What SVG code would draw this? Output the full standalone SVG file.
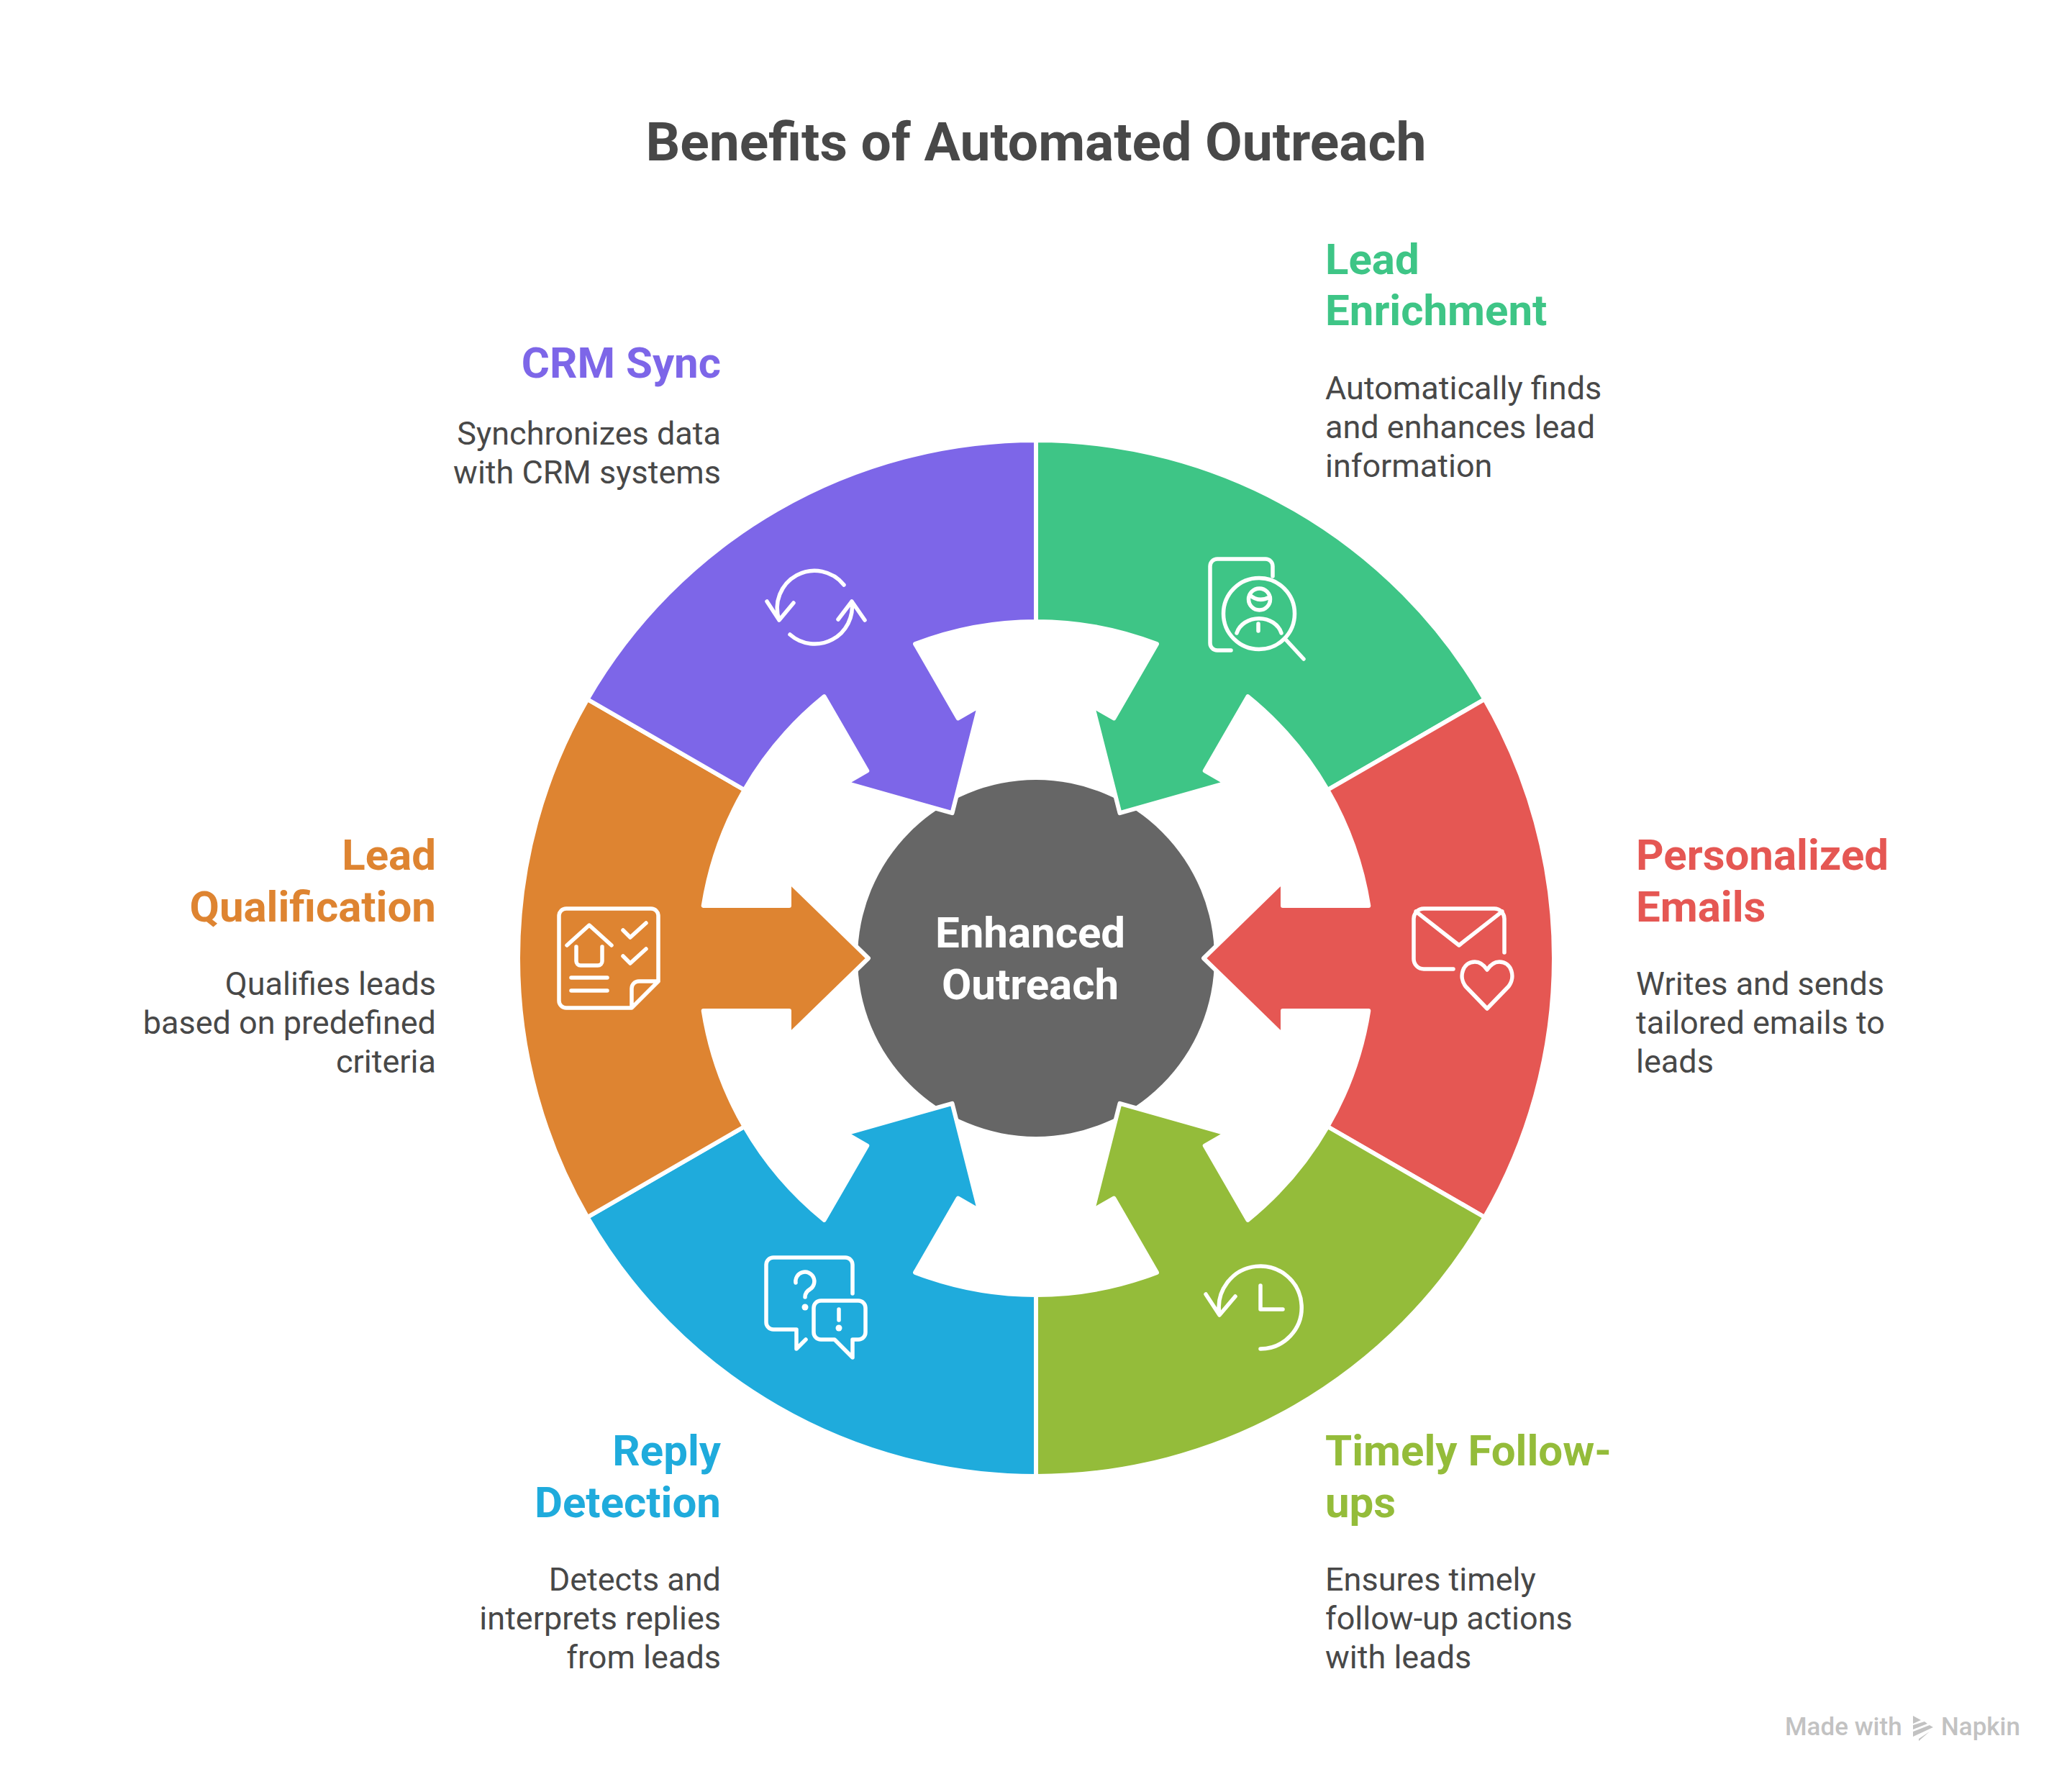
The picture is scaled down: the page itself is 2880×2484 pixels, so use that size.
<svg xmlns="http://www.w3.org/2000/svg" xmlns:xlink="http://www.w3.org/1999/xlink" width="2880" height="2484" viewBox="0 0 2880 2484">
<style>
text{font-family:Roboto,"Liberation Sans",sans-serif}
.title{font-size:75px;font-weight:700;fill:#484848}
.head{font-size:60px;font-weight:700}
.body{font-size:45px;font-weight:400;fill:#484848}
.center{font-size:60px;font-weight:700;fill:#fff;text-anchor:middle}
.end{text-anchor:end}
.seg{stroke:#fff;stroke-width:6;stroke-linejoin:round}
.ic{fill:none;stroke:#fff;stroke-width:5.5;stroke-linecap:round;stroke-linejoin:round}
.dot{fill:#fff}
.brand{font-size:35px;font-weight:500;fill:#c2c2c2}
</style>
<defs>
<path id="seg" d="M-360,-623.54A720,720 0 0 1 360,-623.54L234,-405.3A468,468 0 0 0 73,-462.3L73,-343L107,-343L0,-233L-107,-343L-73,-343L-73,-462.3A468,468 0 0 0 -234,-405.3Z"/>
</defs>
<rect width="2880" height="2484" fill="#fff"/>
<text class="title" x="1440" y="223" text-anchor="middle">Benefits of Automated Outreach</text>
<g id="center-node">
<circle cx="1440" cy="1332" r="248" fill="#666"/>
<text class="center" x="1432" y="1317">Enhanced</text>
<text class="center" x="1432" y="1389">Outreach</text>
</g>
<g id="lead-enrichment">
<use href="#seg" class="seg" fill="#3ec586" transform="translate(1440,1332) rotate(30)"/>
<path class="ic" d="M1711,904H1692a10,10 0 0 1 -10,-10V787a10,10 0 0 1 10,-10H1759a10,10 0 0 1 10,10V801"/>
<circle class="ic" cx="1750" cy="853" r="49.5"/>
<path class="ic" d="M1788,890L1812,916M1719,880A32,27 0 0 1 1781,880M1749,867V877"/>
<circle class="ic" cx="1750.5" cy="833" r="15"/>
<path class="ic" d="M1737,827Q1749,838 1765,830"/>
<text class="head" fill="#3ec586" x="1842" y="381">Lead</text>
<text class="head" fill="#3ec586" x="1842" y="452">Enrichment</text>
<text class="body" x="1842" y="555">Automatically finds</text>
<text class="body" x="1842" y="609">and enhances lead</text>
<text class="body" x="1842" y="663">information</text>
</g>
<g id="personalized-emails">
<use href="#seg" class="seg" fill="#e55753" transform="translate(1440,1332) rotate(90)"/>
<path class="ic" d="M2020,1347H1979a14,14 0 0 1 -14,-14V1277a14,14 0 0 1 14,-14H2077a14,14 0 0 1 14,14V1324M1968,1267L2028,1314L2088,1267"/>
<path class="ic" d="M2067,1402L2037,1371C2027,1358 2033,1337 2050,1337C2058,1337 2063,1342 2067,1348C2071,1342 2076,1337 2084,1337C2101,1337 2107,1358 2097,1371Z"/>
<text class="head" fill="#e55753" x="2274" y="1209">Personalized</text>
<text class="head" fill="#e55753" x="2274" y="1281">Emails</text>
<text class="body" x="2274" y="1383">Writes and sends</text>
<text class="body" x="2274" y="1437">tailored emails to</text>
<text class="body" x="2274" y="1491">leads</text>
</g>
<g id="timely-follow-ups">
<use href="#seg" class="seg" fill="#94bc3a" transform="translate(1440,1332) rotate(150)"/>
<path class="ic" d="M1752,1875A57.5,57.5 0 1 0 1695,1827M1676,1799L1695,1828L1717,1802M1752,1787V1820H1783"/>
<text class="head" fill="#94bc3a" x="1842" y="2037">Timely Follow-</text>
<text class="head" fill="#94bc3a" x="1842" y="2109">ups</text>
<text class="body" x="1842" y="2211">Ensures timely</text>
<text class="body" x="1842" y="2265">follow-up actions</text>
<text class="body" x="1842" y="2319">with leads</text>
</g>
<g id="reply-detection">
<use href="#seg" class="seg" fill="#1fabdc" transform="translate(1440,1332) rotate(210)"/>
<path class="ic" d="M1185,1798V1758a10,10 0 0 0 -10,-10H1075a10,10 0 0 0 -10,10V1838a10,10 0 0 0 10,10H1107V1875L1120,1862"/>
<path class="ic" d="M1141,1808H1193a10,10 0 0 1 10,10V1852a10,10 0 0 1 -10,10H1185V1887L1160,1862H1141a10,10 0 0 1 -10,-10V1818a10,10 0 0 1 10,-10Z"/>
<path class="ic" d="M1106,1783A13,13 0 1 1 1126,1792Q1119,1796 1119,1803M1166,1820V1835"/>
<circle class="dot" cx="1119" cy="1817" r="4.5"/><circle class="dot" cx="1166" cy="1846" r="4.5"/>
<text class="head end" fill="#1fabdc" x="1002" y="2037">Reply</text>
<text class="head end" fill="#1fabdc" x="1002" y="2109">Detection</text>
<text class="body end" x="1002" y="2211">Detects and</text>
<text class="body end" x="1002" y="2265">interprets replies</text>
<text class="body end" x="1002" y="2319">from leads</text>
</g>
<g id="lead-qualification">
<use href="#seg" class="seg" fill="#de8431" transform="translate(1440,1332) rotate(270)"/>
<path class="ic" d="M915,1364V1273a10,10 0 0 0 -10,-10H787a10,10 0 0 0 -10,10V1391a10,10 0 0 0 10,10H878L915,1364H888a10,10 0 0 0 -10,10V1400"/>
<path class="ic" d="M788,1314L819,1286L850,1314M801,1316V1336a6,6 0 0 0 6,6H831a6,6 0 0 0 6,-6V1316M794,1359H844M794,1377H844M866,1293L876,1303L898,1283M866,1329L876,1339L898,1319"/>
<text class="head end" fill="#de8431" x="606" y="1209">Lead</text>
<text class="head end" fill="#de8431" x="606" y="1281">Qualification</text>
<text class="body end" x="606" y="1383">Qualifies leads</text>
<text class="body end" x="606" y="1437">based on predefined</text>
<text class="body end" x="606" y="1491">criteria</text>
</g>
<g id="crm-sync">
<use href="#seg" class="seg" fill="#7d66e8" transform="translate(1440,1332) rotate(330)"/>
<path class="ic" d="M1173,813A52,52 0 0 0 1083,862M1066,836L1083,862L1103,838M1098,882A52,52 0 0 0 1184,836M1165,861L1184,836L1202,862"/>
<text class="head end" fill="#7d66e8" x="1002" y="525">CRM Sync</text>
<text class="body end" x="1002" y="618">Synchronizes data</text>
<text class="body end" x="1002" y="672">with CRM systems</text>
</g>
<g id="watermark">
<text class="brand" x="2481" y="2412">Made with</text>
<path fill="#c2c2c2" d="M2659,2385L2670,2391L2659,2396ZM2659,2398L2675,2393L2679,2396L2659,2404ZM2659,2407L2682,2398L2687,2401L2659,2414ZM2667,2417L2682,2407L2667,2420Z"/>
<text class="brand" x="2698" y="2412">Napkin</text>
</g>
</svg>
